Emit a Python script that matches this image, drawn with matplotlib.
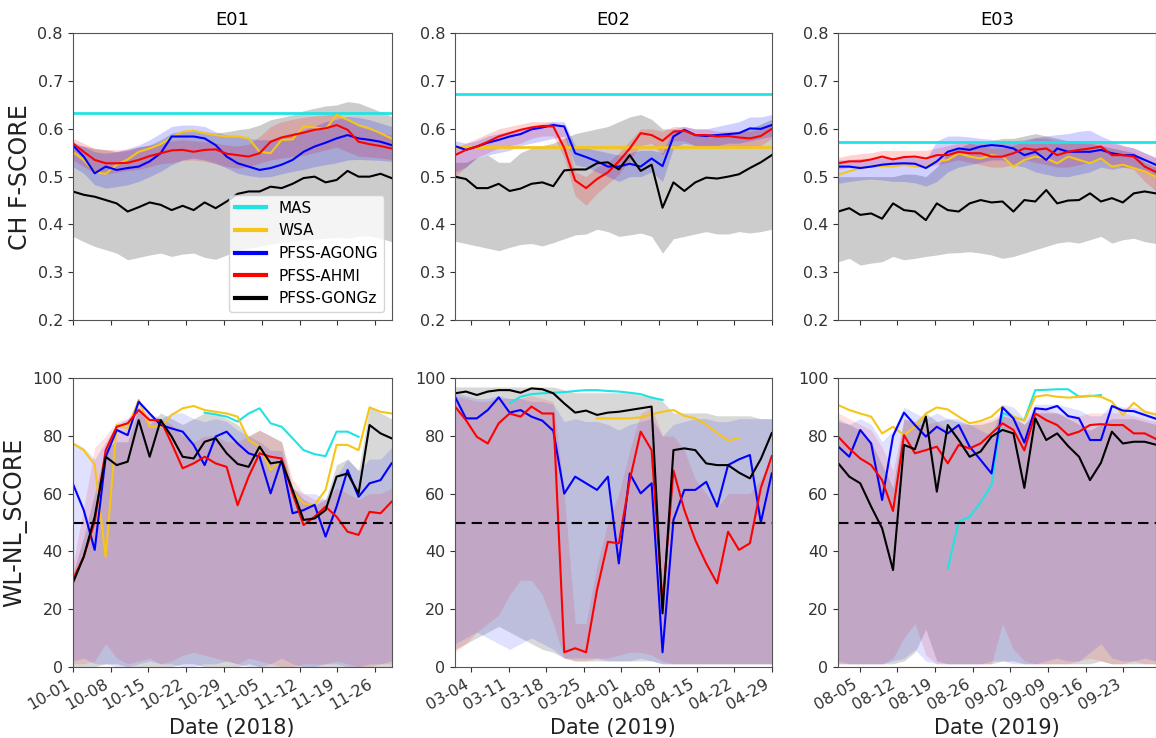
import numpy as np
import pandas as pd
import matplotlib
matplotlib.use('Agg')
import matplotlib.pyplot as plt
import matplotlib.dates as mdates
from matplotlib.lines import Line2D

nan = np.nan

# event periods (30 samples over each 60 day window)
e01_dates = pd.date_range('2018-10-01', '2018-11-29', periods=30)
e02_dates = pd.date_range('2019-03-01', '2019-04-29', periods=30)
e03_dates = pd.date_range('2019-08-01', '2019-09-29', periods=30)
event_names = ['E01', 'E02', 'E03']
year_labels = ['Date (2018)', 'Date (2019)', 'Date (2019)']

# ---------------- CH F-SCORE ----------------
e01_ch_mas = 0.633
e01_ch_wsa = [0.552, 0.535, 0.509, 0.506, 0.525, 0.536, 0.552, 0.559, 0.568, 0.582, 0.594, 0.596, 0.591, 0.587, 0.584,
              0.584, 0.580, 0.552, 0.549, 0.577, 0.578, 0.605, 0.603, 0.599, 0.629, 0.619, 0.608, 0.601, 0.591, 0.580]
e01_ch_agong = [0.566, 0.542, 0.507, 0.521, 0.514, 0.518, 0.521, 0.532, 0.549, 0.584, 0.584, 0.584, 0.580, 0.566, 0.542,
                0.528, 0.521, 0.514, 0.518, 0.525, 0.535, 0.552, 0.563, 0.571, 0.580, 0.587, 0.580, 0.577, 0.573, 0.566]
e01_ch_ahmi = [0.570, 0.552, 0.535, 0.528, 0.528, 0.529, 0.535, 0.543, 0.549, 0.555, 0.556, 0.552, 0.556, 0.557, 0.548,
               0.545, 0.542, 0.549, 0.573, 0.582, 0.587, 0.592, 0.598, 0.601, 0.608, 0.598, 0.573, 0.568, 0.564, 0.559]
e01_ch_gongz = [0.469, 0.462, 0.458, 0.451, 0.444, 0.427, 0.436, 0.446, 0.441, 0.430, 0.439, 0.430, 0.446, 0.434, 0.448,
                0.464, 0.469, 0.469, 0.479, 0.476, 0.485, 0.497, 0.500, 0.488, 0.493, 0.512, 0.500, 0.500, 0.506, 0.497]
e01_ch_agong_hi = [0.573, 0.563, 0.552, 0.549, 0.552, 0.559, 0.566, 0.577, 0.591, 0.605, 0.608, 0.608, 0.605, 0.594, 0.587,
                   0.584, 0.580, 0.577, 0.577, 0.584, 0.591, 0.598, 0.606, 0.615, 0.620, 0.626, 0.624, 0.619, 0.612, 0.605]
e01_ch_agong_lo = [0.521, 0.507, 0.483, 0.476, 0.479, 0.483, 0.490, 0.500, 0.511, 0.525, 0.535, 0.539, 0.535, 0.528, 0.518,
                   0.507, 0.502, 0.499, 0.500, 0.506, 0.511, 0.515, 0.521, 0.525, 0.529, 0.535, 0.536, 0.535, 0.534, 0.532]
e01_ch_ahmi_hi = [0.580, 0.570, 0.559, 0.557, 0.556, 0.557, 0.562, 0.566, 0.571, 0.575, 0.577, 0.575, 0.573, 0.570, 0.566,
                  0.564, 0.568, 0.584, 0.605, 0.615, 0.620, 0.624, 0.627, 0.629, 0.633, 0.619, 0.605, 0.598, 0.592, 0.587]
e01_ch_ahmi_lo = [0.535, 0.521, 0.507, 0.506, 0.509, 0.513, 0.515, 0.521, 0.527, 0.529, 0.534, 0.535, 0.532, 0.527, 0.521,
                  0.518, 0.521, 0.528, 0.535, 0.539, 0.542, 0.545, 0.550, 0.556, 0.562, 0.552, 0.543, 0.541, 0.539, 0.536]
e01_ch_gongz_hi = [0.566, 0.564, 0.559, 0.556, 0.552, 0.555, 0.562, 0.566, 0.577, 0.591, 0.596, 0.598, 0.594, 0.591, 0.594,
                   0.598, 0.601, 0.608, 0.619, 0.624, 0.629, 0.638, 0.643, 0.648, 0.650, 0.657, 0.654, 0.645, 0.636, 0.626]
e01_ch_gongz_lo = [0.375, 0.364, 0.354, 0.347, 0.340, 0.326, 0.331, 0.336, 0.340, 0.333, 0.338, 0.340, 0.331, 0.327, 0.336,
                   0.345, 0.350, 0.354, 0.359, 0.362, 0.364, 0.368, 0.369, 0.371, 0.373, 0.371, 0.375, 0.376, 0.371, 0.364]

e02_ch_mas = 0.673
e02_ch_wsa = 0.562
e02_ch_agong = [0.564, 0.556, 0.563, 0.571, 0.577, 0.584, 0.589, 0.599, 0.603, 0.608, 0.605, 0.549, 0.541, 0.532, 0.521,
                0.521, 0.527, 0.521, 0.538, 0.522, 0.584, 0.598, 0.587, 0.585, 0.587, 0.589, 0.591, 0.601, 0.600, 0.608]
e02_ch_ahmi = [0.545, 0.556, 0.563, 0.573, 0.584, 0.591, 0.598, 0.603, 0.606, 0.605, 0.560, 0.492, 0.476, 0.495, 0.509,
               0.532, 0.559, 0.591, 0.587, 0.575, 0.594, 0.596, 0.587, 0.587, 0.584, 0.585, 0.582, 0.580, 0.585, 0.600]
e02_ch_gongz = [0.500, 0.495, 0.476, 0.476, 0.485, 0.470, 0.475, 0.485, 0.488, 0.480, 0.513, 0.515, 0.515, 0.528, 0.530,
                0.515, 0.545, 0.512, 0.525, 0.435, 0.488, 0.470, 0.488, 0.498, 0.496, 0.500, 0.505, 0.518, 0.530, 0.545]
e02_ch_agong_hi = [0.575, 0.570, 0.575, 0.585, 0.590, 0.595, 0.600, 0.605, 0.610, 0.615, 0.615, 0.565, 0.560, 0.555, 0.550,
                   0.545, 0.550, 0.555, 0.555, 0.550, 0.600, 0.605, 0.600, 0.600, 0.605, 0.610, 0.615, 0.625, 0.625, 0.630]
e02_ch_agong_lo = [0.510, 0.520, 0.540, 0.545, 0.550, 0.555, 0.565, 0.570, 0.575, 0.580, 0.585, 0.525, 0.520, 0.510, 0.500,
                   0.490, 0.500, 0.500, 0.510, 0.490, 0.560, 0.570, 0.565, 0.565, 0.565, 0.570, 0.570, 0.575, 0.580, 0.585]
e02_ch_ahmi_hi = [0.560, 0.570, 0.580, 0.590, 0.600, 0.605, 0.610, 0.615, 0.615, 0.615, 0.600, 0.510, 0.500, 0.520, 0.530,
                  0.550, 0.575, 0.600, 0.600, 0.595, 0.605, 0.605, 0.600, 0.600, 0.595, 0.595, 0.595, 0.595, 0.600, 0.610]
e02_ch_ahmi_lo = [0.500, 0.520, 0.540, 0.550, 0.560, 0.565, 0.570, 0.580, 0.585, 0.585, 0.540, 0.460, 0.440, 0.465, 0.485,
                  0.505, 0.535, 0.565, 0.570, 0.545, 0.575, 0.575, 0.565, 0.565, 0.565, 0.565, 0.560, 0.560, 0.565, 0.580]
e02_ch_gongz_hi = [0.530, 0.530, 0.540, 0.545, 0.530, 0.530, 0.550, 0.560, 0.565, 0.570, 0.580, 0.590, 0.595, 0.600, 0.605,
                   0.615, 0.625, 0.630, 0.620, 0.600, 0.600, 0.595, 0.590, 0.590, 0.590, 0.590, 0.595, 0.600, 0.610, 0.620]
e02_ch_gongz_lo = [0.365, 0.360, 0.355, 0.350, 0.345, 0.352, 0.358, 0.360, 0.355, 0.362, 0.370, 0.378, 0.380, 0.390, 0.385,
                   0.375, 0.378, 0.382, 0.375, 0.340, 0.370, 0.375, 0.380, 0.385, 0.380, 0.380, 0.385, 0.382, 0.385, 0.390]

e03_ch_mas = 0.572
e03_ch_wsa = [0.504, 0.511, 0.518, 0.521, 0.522, 0.521, 0.525, 0.521, 0.521, 0.532, 0.535, 0.549, 0.542, 0.538, 0.545,
              0.542, 0.521, 0.535, 0.542, 0.538, 0.528, 0.542, 0.535, 0.528, 0.538, 0.521, 0.525, 0.518, 0.511, 0.500]
e03_ch_agong = [0.521, 0.521, 0.518, 0.521, 0.525, 0.527, 0.528, 0.527, 0.518, 0.532, 0.552, 0.559, 0.556, 0.563, 0.566,
                0.564, 0.559, 0.545, 0.552, 0.535, 0.559, 0.552, 0.552, 0.552, 0.556, 0.549, 0.545, 0.545, 0.535, 0.525]
e03_ch_ahmi = [0.528, 0.532, 0.532, 0.536, 0.542, 0.536, 0.541, 0.542, 0.538, 0.545, 0.545, 0.552, 0.549, 0.549, 0.542,
               0.542, 0.549, 0.559, 0.556, 0.559, 0.545, 0.552, 0.556, 0.559, 0.563, 0.545, 0.545, 0.542, 0.521, 0.510]
e03_ch_gongz = [0.427, 0.434, 0.420, 0.423, 0.412, 0.444, 0.430, 0.427, 0.409, 0.444, 0.430, 0.427, 0.444, 0.451, 0.446,
                0.448, 0.427, 0.451, 0.448, 0.472, 0.444, 0.450, 0.451, 0.465, 0.448, 0.455, 0.446, 0.465, 0.469, 0.465]
e03_ch_agong_hi = [0.535, 0.535, 0.538, 0.538, 0.540, 0.540, 0.540, 0.540, 0.535, 0.575, 0.585, 0.585, 0.583, 0.580, 0.578,
                   0.575, 0.575, 0.577, 0.582, 0.585, 0.588, 0.590, 0.595, 0.597, 0.585, 0.575, 0.565, 0.560, 0.550, 0.540]
e03_ch_agong_lo = [0.486, 0.490, 0.493, 0.495, 0.493, 0.490, 0.490, 0.487, 0.480, 0.490, 0.510, 0.520, 0.525, 0.530, 0.535,
                   0.535, 0.525, 0.520, 0.510, 0.505, 0.500, 0.500, 0.505, 0.510, 0.520, 0.515, 0.520, 0.520, 0.510, 0.500]
e03_ch_ahmi_hi = [0.540, 0.545, 0.548, 0.550, 0.555, 0.555, 0.555, 0.555, 0.555, 0.560, 0.565, 0.570, 0.570, 0.565, 0.560,
                  0.560, 0.565, 0.575, 0.580, 0.580, 0.575, 0.575, 0.575, 0.575, 0.575, 0.570, 0.565, 0.560, 0.550, 0.540]
e03_ch_ahmi_lo = [0.515, 0.520, 0.520, 0.520, 0.525, 0.525, 0.525, 0.525, 0.520, 0.525, 0.530, 0.535, 0.530, 0.525, 0.520,
                  0.520, 0.525, 0.535, 0.530, 0.525, 0.520, 0.520, 0.525, 0.530, 0.535, 0.525, 0.520, 0.515, 0.490, 0.470]
e03_ch_gongz_hi = [0.500, 0.500, 0.500, 0.500, 0.500, 0.500, 0.505, 0.505, 0.500, 0.520, 0.550, 0.560, 0.570, 0.570, 0.575,
                   0.580, 0.580, 0.585, 0.590, 0.585, 0.580, 0.575, 0.575, 0.570, 0.565, 0.560, 0.555, 0.550, 0.530, 0.520]
e03_ch_gongz_lo = [0.322, 0.329, 0.315, 0.319, 0.322, 0.333, 0.326, 0.329, 0.333, 0.336, 0.340, 0.341, 0.343, 0.340, 0.336,
                   0.329, 0.333, 0.340, 0.347, 0.354, 0.361, 0.364, 0.361, 0.368, 0.375, 0.361, 0.368, 0.371, 0.364, 0.360]

# ---------------- WL-NL_SCORE ----------------
e01_wl_mas = [nan] * 12 + [88.1, 87.5, 86.7, 85.0, 87.8, 89.6, 84.4, 83.2, 79.2, 75.1, 73.7, 73.0, 81.5, 81.5, 79.7] + [nan] * 3
e01_wl_wsa = [77.4, 75.1, 70.0, 38.0, 83.8, 82.6, 92.5, 83.2, 83.2, 87.3, 89.6, 90.4, 89.0, 88.4, 87.8,
              86.7, 78.6, 76.3, 68.2, 71.7, 60.7, 56.6, 56.1, 61.3, 76.9, 76.9, 75.1, 89.9, 88.4, 87.8]
e01_wl_agong = [63.6, 54.3, 40.5, 72.8, 82.1, 80.3, 91.9, 87.8, 83.8, 82.6, 81.5, 76.9, 69.9, 79.8, 81.5,
                77.4, 74.0, 72.8, 60.1, 71.7, 53.2, 54.3, 56.1, 45.1, 55.5, 68.2, 58.9, 63.6, 64.7, 70.5]
e01_wl_ahmi = [30.1, 38.1, 50.3, 75.1, 83.2, 84.4, 89.0, 85.5, 85.5, 77.4, 68.8, 70.5, 72.8, 70.5, 69.3,
               56.0, 65.9, 74.0, 72.8, 72.2, 60.1, 49.1, 52.0, 55.5, 52.0, 46.8, 45.7, 53.7, 53.2, 57.2]
e01_wl_gongz = [28.9, 38.1, 52.0, 72.8, 69.9, 71.1, 85.5, 72.8, 85.5, 79.8, 72.8, 72.2, 78.0, 79.2, 74.0,
                70.3, 69.3, 76.3, 70.5, 71.1, 61.3, 50.9, 51.4, 54.3, 65.9, 67.0, 60.1, 83.8, 80.9, 79.2]
e01_wl_agong_hi = [78, 76, 72, 78, 84, 86, 92, 88, 86, 88, 88, 86, 85, 86, 85, 82, 80, 78, 75, 75, 62, 60, 60, 58, 66, 72, 68, 72, 72, 76]
e01_wl_agong_lo = [2, 3, 1, 1, 0, 0, 1, 2, 1, 1, 0, 0, 1, 1, 2, 1, 0, 0, 1, 3, 1, 0, 0, 1, 1, 0, 0, 1, 1, 2]
e01_wl_ahmi_hi = [35, 55, 76, 80, 85, 86, 90, 87, 86, 84, 80, 78, 80, 80, 78, 78, 80, 82, 80, 78, 65, 60, 58, 58, 62, 60, 58, 60, 60, 62]
e01_wl_ahmi_lo = [1, 1, 2, 8, 3, 1, 2, 3, 1, 2, 4, 5, 4, 3, 2, 1, 3, 2, 1, 0, 0, 1, 1, 1, 2, 1, 0, 0, 1, 1]
e01_wl_gongz_hi = [32, 45, 60, 76, 78, 78, 90, 84, 88, 86, 84, 86, 88, 88, 86, 84, 80, 82, 80, 78, 62, 58, 56, 58, 70, 72, 68, 90, 88, 86]
e01_wl_gongz_lo = [0, 0, 0, 1, 1, 0, 0, 0, 0, 0, 1, 1, 0, 0, 0, 0, 1, 0, 0, 0, 0, 0, 0, 0, 0, 0, 0, 0, 0, 0]

e02_wl_mas = [nan] * 5 + [91.3, 93.6, 94.5, 94.8, 95.0, 95.2, 95.6, 95.9, 95.9, 95.6, 95.4, 95.0, 94.5, 93.3, 92.5] + [nan] * 10
e02_wl_wsa = [nan] * 13 + [86.1, 86.1, 86.1, 86.1, 86.5, 87.5, 88.4, 89.0, 87.0, 86.1, 84.0, 81.0, 78.5, 79.2] + [nan] * 3
e02_wl_agong = [93.6, 86.1, 86.1, 89.0, 93.4, 88.1, 89.0, 86.7, 85.3, 81.8, 60.0, 65.9, 63.6, 61.3, 65.9,
                35.8, 67.0, 60.1, 63.6, 5.0, 50.9, 61.3, 61.3, 64.1, 55.5, 69.9, 71.9, 73.4, 50.0, 67.0]
e02_wl_ahmi = [90.2, 85.5, 79.7, 77.4, 84.4, 87.8, 86.7, 90.2, 87.8, 87.8, 5.0, 6.4, 5.0, 26.6, 43.3,
               42.8, 64.7, 81.5, 75.1, 22.0, 68.0, 54.3, 43.9, 35.8, 28.9, 46.8, 40.5, 42.8, 62.0, 73.0]
e02_wl_gongz = [94.8, 95.4, 94.2, 95.4, 95.9, 95.9, 95.0, 96.5, 96.2, 94.8, 91.3, 88.1, 88.8, 87.3, 88.1,
                88.4, 89.0, 89.6, 90.2, 18.5, 75.1, 75.7, 75.1, 70.5, 69.9, 69.9, 67.3, 65.3, 72.0, 81.0]
e02_wl_agong_hi = [95, 94, 93, 93, 94, 93, 93, 92, 92, 91, 85, 86, 85, 85, 84, 82, 84, 85, 86, 80, 84, 85, 86, 86, 85, 85, 86, 86, 86, 86]
e02_wl_agong_lo = [8, 10, 12, 10, 8, 6, 8, 10, 8, 6, 3, 3, 3, 3, 2, 2, 2, 3, 2, 1, 1, 1, 1, 1, 1, 1, 1, 1, 1, 1]
e02_wl_ahmi_hi = [94, 93, 92, 92, 93, 93, 93, 94, 93, 92, 60, 15, 15, 35, 50, 60, 75, 88, 90, 80, 80, 75, 65, 60, 55, 60, 60, 60, 65, 72]
e02_wl_ahmi_lo = [5, 8, 12, 15, 18, 25, 30, 30, 25, 15, 3, 2, 2, 3, 3, 4, 5, 5, 4, 2, 1, 1, 1, 1, 1, 1, 1, 1, 1, 1]
e02_wl_gongz_hi = [97, 97, 97, 97, 97, 97, 97, 97, 97, 97, 96, 95, 95, 95, 95, 95, 95, 94, 94, 92, 88, 88, 88, 88, 87, 87, 87, 87, 86, 86]
e02_wl_gongz_lo = [6, 8, 10, 12, 14, 12, 10, 8, 6, 5, 3, 2, 2, 2, 2, 2, 2, 2, 2, 1, 1, 1, 1, 1, 1, 1, 1, 1, 1, 1]

e03_wl_mas = [nan] * 10 + [34.0, 50.3, 52.0, 57.0, 63.0, 88.0, 86.5, 85.5, 95.9, 96.0, 96.2, 96.2, 93.6, 93.8, 94.2] + [nan] * 5
e03_wl_wsa = [90.7, 89.0, 87.8, 86.7, 80.9, 83.2, 80.3, 83.2, 87.8, 89.9, 89.2, 86.7, 84.4, 85.2, 86.7,
              90.2, 86.7, 85.3, 93.6, 94.2, 93.6, 93.3, 93.6, 94.0, 93.6, 91.9, 87.3, 91.5, 88.4, 87.5]
e03_wl_agong = [76.3, 72.8, 82.1, 77.4, 57.8, 80.0, 88.1, 83.8, 79.8, 83.2, 80.9, 83.8, 76.3, 71.7, 67.0,
                89.9, 86.1, 77.7, 89.6, 89.2, 90.4, 86.9, 86.1, 78.6, 78.6, 90.4, 88.8, 88.6, 87.3, 86.0]
e03_wl_ahmi = [79.7, 75.7, 72.2, 69.9, 64.7, 54.0, 80.3, 74.0, 75.1, 76.3, 70.5, 76.9, 75.7, 77.4, 80.9,
               84.4, 82.1, 75.0, 87.8, 85.5, 83.8, 80.3, 81.5, 83.8, 84.1, 83.8, 83.8, 80.9, 80.9, 79.0]
e03_wl_gongz = [70.5, 65.9, 63.6, 55.5, 48.0, 33.5, 76.9, 75.4, 86.7, 60.7, 83.8, 78.6, 72.8, 74.6, 79.8,
                82.1, 80.9, 62.0, 86.1, 78.6, 80.9, 76.5, 72.8, 64.7, 70.7, 81.5, 77.4, 78.0, 78.0, 77.0]
e03_wl_agong_hi = [86, 84, 86, 84, 78, 82, 90, 88, 86, 88, 86, 86, 84, 82, 80, 91, 90, 86, 91, 91, 91, 90, 89, 87, 87, 91, 90, 90, 89, 88]
e03_wl_agong_lo = [2, 1, 1, 1, 1, 2, 3, 6, 2, 1, 1, 1, 1, 1, 2, 2, 1, 1, 1, 2, 3, 2, 2, 5, 8, 3, 2, 2, 3, 2]
e03_wl_ahmi_hi = [88, 86, 84, 82, 76, 68, 86, 84, 84, 85, 82, 84, 84, 85, 86, 88, 87, 84, 90, 89, 88, 87, 87, 88, 88, 88, 88, 87, 86, 85]
e03_wl_ahmi_lo = [1, 1, 1, 1, 1, 3, 10, 15, 4, 1, 1, 1, 1, 1, 1, 15, 6, 2, 1, 1, 1, 1, 2, 3, 2, 1, 1, 2, 1, 1]
e03_wl_gongz_hi = [85, 84, 82, 78, 70, 62, 86, 85, 88, 85, 86, 85, 84, 84, 85, 87, 86, 84, 88, 88, 88, 86, 84, 82, 84, 86, 86, 86, 85, 84]
e03_wl_gongz_lo = [1, 1, 1, 1, 1, 1, 2, 5, 13, 2, 1, 1, 1, 1, 1, 2, 2, 1, 1, 1, 1, 1, 1, 1, 2, 1, 1, 1, 1, 1]

model_names = ['MAS', 'WSA', 'PFSS-AGONG', 'PFSS-AHMI', 'PFSS-GONGz']
model_colors = ['#22e3e3', '#f5c518', '#0000ff', '#ff0000', '#000000']
# band colour and alpha per model for the top and the bottom row
ch_band_styles = {'agong': ('b', 0.18), 'ahmi': ('r', 0.18), 'gongz': ('gray', 0.4)}
wl_band_styles = {'agong': ('b', 0.12), 'ahmi': ('r', 0.12), 'gongz': ('gray', 0.3)}

# axes boxes in figure fractions (left, width) per column, (bottom, height) per row
col_boxes = [(0.0629, 0.2758), (0.3936, 0.2740), (0.7252, 0.2745)]
top_row = (0.5664, 0.3885)
bottom_row = (0.0966, 0.3908)


def as_series(v, n):
    # constant scores are drawn as flat lines
    if np.isscalar(v):
        return np.full(n, v)
    return np.array(v, dtype=float)


def draw_panel(ax, dates, lines, bands, styles):
    # shaded spread of each PFSS model first, then the median lines
    for key in ['gongz', 'ahmi', 'agong']:
        lo, hi = bands[key]
        col, a = styles[key]
        ax.fill_between(dates, lo, hi, color=col, alpha=a, lw=0)
    for vals, col in zip(lines, model_colors):
        lw = 2.0 if np.isscalar(vals) else 1.5
        ax.plot(dates, as_series(vals, len(dates)), color=col, lw=lw)
    ax.set_xlim(dates[0], dates[-1])
    ax.xaxis.set_major_locator(mdates.WeekdayLocator(byweekday=mdates.MO))
    ax.xaxis.set_major_formatter(mdates.DateFormatter('%m-%d'))
    ax.tick_params(labelsize=11.5, colors='#333333')
    for s in ax.spines.values():
        s.set_color('#555555')


all_dates = [e01_dates, e02_dates, e03_dates]
ch_lines = [
    [e01_ch_mas, e01_ch_wsa, e01_ch_agong, e01_ch_ahmi, e01_ch_gongz],
    [e02_ch_mas, e02_ch_wsa, e02_ch_agong, e02_ch_ahmi, e02_ch_gongz],
    [e03_ch_mas, e03_ch_wsa, e03_ch_agong, e03_ch_ahmi, e03_ch_gongz],
]
ch_bands = [
    {'agong': (e01_ch_agong_lo, e01_ch_agong_hi), 'ahmi': (e01_ch_ahmi_lo, e01_ch_ahmi_hi), 'gongz': (e01_ch_gongz_lo, e01_ch_gongz_hi)},
    {'agong': (e02_ch_agong_lo, e02_ch_agong_hi), 'ahmi': (e02_ch_ahmi_lo, e02_ch_ahmi_hi), 'gongz': (e02_ch_gongz_lo, e02_ch_gongz_hi)},
    {'agong': (e03_ch_agong_lo, e03_ch_agong_hi), 'ahmi': (e03_ch_ahmi_lo, e03_ch_ahmi_hi), 'gongz': (e03_ch_gongz_lo, e03_ch_gongz_hi)},
]
wl_lines = [
    [e01_wl_mas, e01_wl_wsa, e01_wl_agong, e01_wl_ahmi, e01_wl_gongz],
    [e02_wl_mas, e02_wl_wsa, e02_wl_agong, e02_wl_ahmi, e02_wl_gongz],
    [e03_wl_mas, e03_wl_wsa, e03_wl_agong, e03_wl_ahmi, e03_wl_gongz],
]
wl_bands = [
    {'agong': (e01_wl_agong_lo, e01_wl_agong_hi), 'ahmi': (e01_wl_ahmi_lo, e01_wl_ahmi_hi), 'gongz': (e01_wl_gongz_lo, e01_wl_gongz_hi)},
    {'agong': (e02_wl_agong_lo, e02_wl_agong_hi), 'ahmi': (e02_wl_ahmi_lo, e02_wl_ahmi_hi), 'gongz': (e02_wl_gongz_lo, e02_wl_gongz_hi)},
    {'agong': (e03_wl_agong_lo, e03_wl_agong_hi), 'ahmi': (e03_wl_ahmi_lo, e03_wl_ahmi_hi), 'gongz': (e03_wl_gongz_lo, e03_wl_gongz_hi)},
]

fig = plt.figure(figsize=(11.56, 7.38), dpi=100)

for i in range(3):
    left, width = col_boxes[i]
    ax_t = fig.add_axes([left, top_row[0], width, top_row[1]])
    draw_panel(ax_t, all_dates[i], ch_lines[i], ch_bands[i], ch_band_styles)
    ax_t.set_ylim(0.2, 0.8)
    ax_t.set_yticks(np.arange(0.2, 0.81, 0.1))
    ax_t.tick_params(axis='x', labelbottom=False)
    ax_t.set_title(event_names[i], fontsize=13)

    ax_b = fig.add_axes([left, bottom_row[0], width, bottom_row[1]])
    draw_panel(ax_b, all_dates[i], wl_lines[i], wl_bands[i], wl_band_styles)
    ax_b.axhline(50, color='k', ls='--', lw=1.5, dashes=(5, 3))
    ax_b.set_ylim(0, 100)
    ax_b.set_yticks(np.arange(0, 101, 20))
    plt.setp(ax_b.get_xticklabels(), rotation=30, ha='right')
    ax_b.set_xlabel(year_labels[i], fontsize=15, color='#222222')

    if i == 0:
        ax_t.set_ylabel('CH F-SCORE', fontsize=17, color='#222222')
        ax_b.set_ylabel('WL-NL_SCORE', fontsize=17, color='#222222')
        handles = [Line2D([], [], color=c, lw=3) for c in model_colors]
        ax_t.legend(handles, model_names, loc='lower right', fontsize=11)

fig.savefig('out.png', dpi=100)
